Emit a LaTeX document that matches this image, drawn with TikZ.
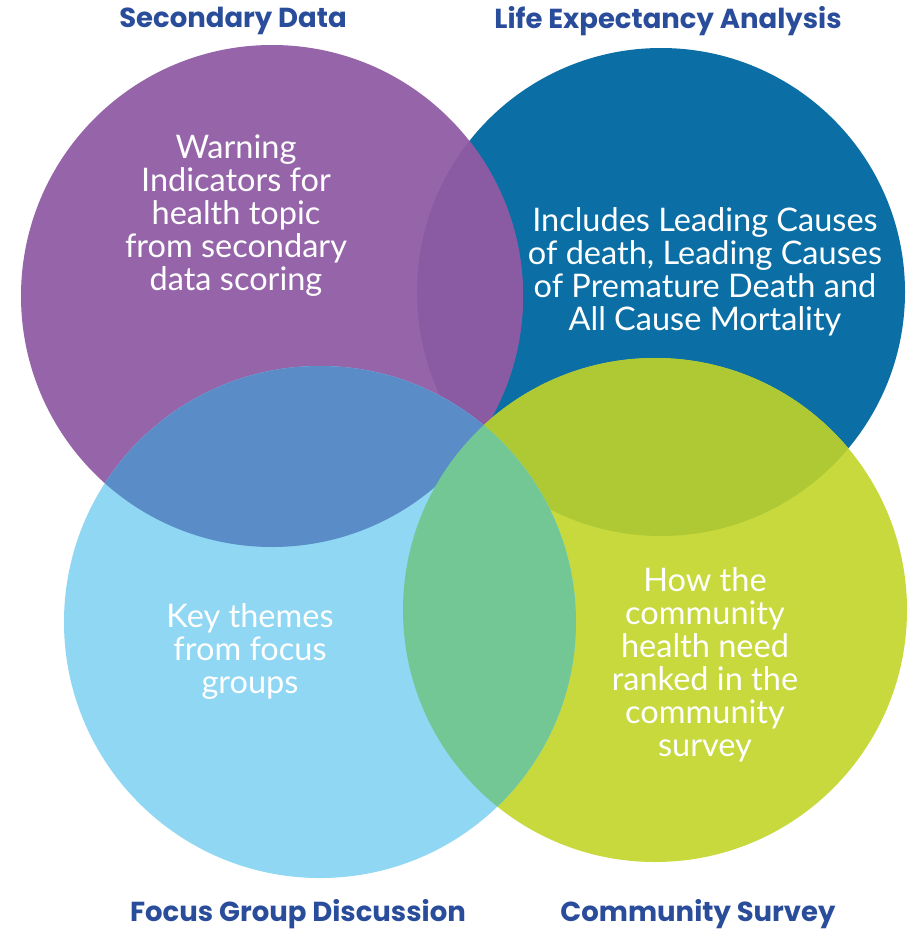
\documentclass[tikz,border=0pt]{standalone}
\usepackage{fontspec}
\setmainfont{Lato}
\newfontfamily\titlefont{Poppins}
\definecolor{cpurple}{HTML}{9564A9}
\definecolor{cdarkpurple}{HTML}{8A5AA3}
\definecolor{cdarkblue}{HTML}{0B6FA5}
\definecolor{clightblue}{HTML}{8FD7F3}
\definecolor{cmedblue}{HTML}{5A8DC8}
\definecolor{cyellow}{HTML}{C7D93D}
\definecolor{cdarkyellow}{HTML}{AFC935}
\definecolor{cgreen}{HTML}{73C795}
\definecolor{ctitle}{HTML}{2A4D9B}
\tikzset{
  titletext/.style={text=ctitle, font=\titlefont\bfseries\fontsize{27.5}{30}\selectfont, inner sep=0pt},
  bodytext/.style={text=white, font=\fontsize{32.5}{33}\selectfont, align=center, inner sep=0pt},
}
\begin{document}
\begin{tikzpicture}[x=1pt,y=-1pt]
\fill[white] (0,0) rectangle (915,932);
\useasboundingbox (0,0) rectangle (915,932);
% circle geometry
\def\PC{(272,296) circle[radius=251]}
\def\BC{(661,292) circle[radius=244]}
\def\LC{(320,622) circle[radius=256]}
\def\YC{(655,610) circle[radius=252]}
\fill[cdarkblue] \BC;
\fill[cpurple] \PC;
\begin{scope}
  \clip \PC;
  \fill[cdarkpurple] \BC;
\end{scope}
\fill[cyellow] \YC;
\begin{scope}
  \clip \YC;
  \fill[cdarkyellow] \BC;
\end{scope}
\fill[clightblue] \LC;
\begin{scope}
  \clip \LC;
  \fill[cmedblue] \PC;
\end{scope}
\begin{scope}
  \clip \LC;
  \fill[cgreen] \YC;
\end{scope}
% titles
\node[titletext] (tsec) at (233,21) {Secondary Data};
\node[titletext] (tlife) at (668,21) {Life Expectancy Analysis};
\node[titletext] (tfocus) at (298,914) {Focus Group Discussion};
\node[titletext] (tcomm) at (698,914) {Community Survey};
% body texts
\node[bodytext] (bsec) at (236,216) {Warning\\Indicators for\\health topic\\from secondary\\data scoring};
\node[bodytext] (blife) at (705,272) {Includes Leading Causes\\of death, Leading Causes\\of Premature Death and\\All Cause Mortality};
\node[bodytext] (bfocus) at (250,651) {Key themes\\from focus\\groups};
\node[bodytext] (bcomm) at (705,665) {How the\\community\\health need\\ranked in the\\community\\survey};
\end{tikzpicture}
\end{document}
